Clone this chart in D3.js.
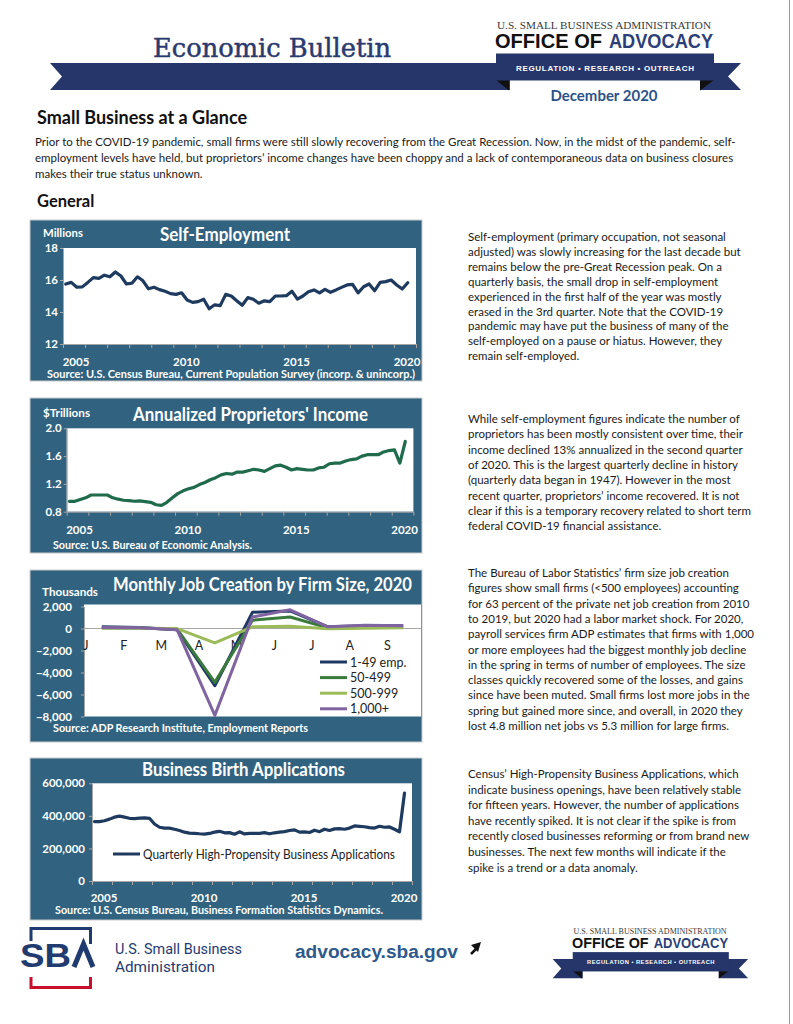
<!DOCTYPE html>
<html>
<head>
<meta charset="utf-8">
<script src="https://cdn.jsdelivr.net/npm/d3@7"></script>
<style>
  body { margin: 0; background: #fff; }
  svg { display: block; }
</style>
</head>
<body>
<svg id="page" width="793" height="1024"></svg>
<script>
// ---- Data (read off the bulletin) ----
// quarterly series, 2005 Q1 .. 2020 Q3
const selfEmployment = [15.75,15.85,15.55,15.57,15.85,16.15,16.1,16.3,16.2,16.5,16.25,15.75,15.8,16.2,15.95,15.45,
  15.55,15.4,15.3,15.15,15.1,15.2,14.75,14.6,14.65,14.8,14.2,14.45,14.4,15.1,15.0,14.7,
  14.42,14.9,14.8,14.55,14.7,14.65,15.0,15.0,15.02,15.3,14.8,15.0,15.27,15.38,15.2,15.42,
  15.23,15.38,15.54,15.69,15.73,15.2,15.58,15.75,15.33,15.85,15.9,16.0,15.69,15.44,15.83];
const proprietorsIncome = [0.95,0.95,0.975,1.0,1.04,1.04,1.04,1.04,1.0,0.98,0.965,0.96,0.95,0.955,0.945,0.935,
  0.9,0.89,0.935,1.0,1.06,1.1,1.13,1.15,1.19,1.22,1.26,1.29,1.33,1.35,1.34,1.37,
  1.37,1.39,1.41,1.40,1.38,1.42,1.46,1.47,1.44,1.40,1.42,1.41,1.40,1.40,1.43,1.44,
  1.49,1.50,1.50,1.53,1.55,1.56,1.60,1.62,1.62,1.62,1.66,1.68,1.69,1.50,1.81];
// thousands of applications
const birthApps = [365,365,370,380,392,398,392,385,383,386,388,385,350,330,325,325,
  318,310,300,294,293,290,288,292,300,305,296,297,287,302,289,293,
  292,293,297,290,296,300,303,310,314,300,302,298,312,303,318,310,
  320,322,318,325,338,336,333,328,325,336,330,332,318,302,540];
const firstYear = 2005;
const yearLabels = [2005, 2010, 2015, 2020];
const seTicks = [12, 14, 16, 18];
const incTicks = [0.8, 1.2, 1.6, 2.0];
const appTicks = [0, 200000, 400000, 600000];

// monthly job creation 2020 (thousands)
const months = ['J','F','M','A','M','J','J','A','S'];
const jobNames = ['1-49 emp.', '50-499', '500-999', '1,000+'];
const jobSmall = [150, 90, -120, -5200, 1480, 1600, 150, 250, 250];
const jobMid = [60, 40, -60, -4900, 750, 1050, 60, 150, 180];
const jobLarge = [20, 20, -10, -1300, 150, 200, -20, 20, 60];
const jobHuge = [100, 60, -120, -7900, 1050, 1700, 150, 300, 250];
const jobTicks = [-8000, -6000, -4000, -2000, 0, 2000];

// ---- Text ----
const introLines = [
  'Prior to the COVID-19 pandemic, small firms were still slowly recovering from the Great Recession. Now, in the midst of the pandemic, self-',
  'employment levels have held, but proprietors\u2019 income changes have been choppy and a lack of contemporaneous data on business closures',
  'makes their true status unknown.'
];
const textSelfEmp = [
  'Self-employment (primary occupation, not seasonal',
  'adjusted) was slowly increasing for the last decade but',
  'remains below the pre-Great Recession peak. On a',
  'quarterly basis, the small drop in self-employment',
  'experienced in the first half of the year was mostly',
  'erased in the 3rd quarter. Note that the COVID-19',
  'pandemic may have put the business of many of the',
  'self-employed on a pause or hiatus. However, they',
  'remain self-employed.'
];
const textIncome = [
  'While self-employment figures indicate the number of',
  'proprietors has been mostly consistent over time, their',
  'income declined 13% annualized in the second quarter',
  'of 2020. This is the largest quarterly decline in history',
  '(quarterly data began in 1947). However in the most',
  'recent quarter, proprietors\u2019 income recovered. It is not',
  'clear if this is a temporary recovery related to short term',
  'federal COVID-19 financial assistance.'
];
const textJobs = [
  'The Bureau of Labor Statistics\u2019 firm size job creation',
  'figures show small firms (<500 employees) accounting',
  'for 63 percent of the private net job creation from 2010',
  'to 2019, but 2020 had a labor market shock. For 2020,',
  'payroll services firm ADP estimates that firms with 1,000',
  'or more employees had the biggest monthly job decline',
  'in the spring in terms of number of employees. The size',
  'classes quickly recovered some of the losses, and gains',
  'since have been muted. Small firms lost more jobs in the',
  'spring but gained more since, and overall, in 2020 they',
  'lost 4.8 million net jobs vs 5.3 million for large firms.'
];
const textApps = [
  'Census\u2019 High-Propensity Business Applications, which',
  'indicate business openings, have been relatively stable',
  'for fifteen years. However, the number of applications',
  'have recently spiked. It is not clear if the spike is from',
  'recently closed businesses reforming or from brand new',
  'businesses. The next few months will indicate if the',
  'spike is a trend or a data anomaly.'
];

// ---- Styles ----
const NAVY = '#26366b';
const BOX = '#316380';
const CHART_FONT = 'Lato, "Open Sans", sans-serif';
const BODY_FONT = 'Lato, "Noto Sans", sans-serif';

const svg = d3.select('#page');

// page edge
svg.append('line').attr('x1', 789.5).attr('x2', 789.5).attr('y1', 0).attr('y2', 1024)
  .attr('stroke', '#9a9a9a').attr('stroke-width', 1);

// ---- Header ----
svg.append('text')
  .attr('x', 153).attr('y', 57)
  .attr('font-family', '"DejaVu Serif", serif')
  .attr('font-size', 26)
  .attr('fill', '#2b3a6e')
  .attr('stroke', '#2b3a6e').attr('stroke-width', 0.5)
  .attr('textLength', 238).attr('lengthAdjust', 'spacingAndGlyphs')
  .text('Economic Bulletin');

// Office of Advocacy logo (ribbon), drawn in header coordinates
function drawLogo(g, bandLeft) {
  g.append('path')
    .attr('d', `M${bandLeft},63 L510,63 L510,90 L${bandLeft},90 L${bandLeft + 12},76.5 Z`)
    .attr('fill', NAVY);
  g.append('path')
    .attr('d', 'M700,63 L741,63 L728,76.5 L741,90 L700,90 Z')
    .attr('fill', NAVY);
  g.append('path').attr('d', 'M496,80 L509,80 L509,90.5 Z').attr('fill', '#111');
  g.append('path').attr('d', 'M700,80 L714,80 L700,90.5 Z').attr('fill', '#111');
  g.append('rect')
    .attr('x', 496).attr('y', 53.5).attr('width', 218).attr('height', 27)
    .attr('fill', NAVY);
  g.append('text')
    .attr('x', 605).attr('y', 70.5)
    .attr('text-anchor', 'middle')
    .attr('font-family', '"Liberation Sans", Arial, sans-serif')
    .attr('font-weight', 'bold').attr('font-size', 8)
    .attr('fill', '#fff')
    .attr('textLength', 178).attr('lengthAdjust', 'spacing')
    .text('REGULATION \u2022 RESEARCH \u2022 OUTREACH');
  g.append('text')
    .attr('x', 497).attr('y', 28.5)
    .attr('font-family', '"Liberation Serif", "DejaVu Serif", serif')
    .attr('font-size', 10.5)
    .attr('fill', '#3a3a3a')
    .attr('textLength', 214).attr('lengthAdjust', 'spacingAndGlyphs')
    .text('U.S. SMALL BUSINESS ADMINISTRATION');
  g.append('text')
    .attr('x', 495).attr('y', 48)
    .attr('font-family', '"Liberation Sans", Arial, sans-serif')
    .attr('font-weight', 'bold').attr('font-size', 19.5)
    .attr('fill', '#111')
    .attr('textLength', 107).attr('lengthAdjust', 'spacingAndGlyphs')
    .text('OFFICE OF');
  g.append('text')
    .attr('x', 609).attr('y', 48)
    .attr('font-family', '"Liberation Sans", Arial, sans-serif')
    .attr('font-weight', 'bold').attr('font-size', 19.5)
    .attr('fill', '#2c3f78')
    .attr('textLength', 104).attr('lengthAdjust', 'spacingAndGlyphs')
    .text('ADVOCACY');
}

drawLogo(svg.append('g'), 50);

svg.append('text')
  .attr('x', 604).attr('y', 100.7)
  .attr('text-anchor', 'middle')
  .attr('font-family', 'Lato, "Open Sans", sans-serif')
  .attr('font-weight', 'bold').attr('font-size', 15)
  .attr('fill', '#2d5388')
  .attr('textLength', 107).attr('lengthAdjust', 'spacingAndGlyphs')
  .text('December 2020');

// ---- Intro ----
svg.append('text')
  .attr('x', 37).attr('y', 124)
  .attr('font-family', BODY_FONT)
  .attr('font-weight', 'bold').attr('font-size', 18)
  .attr('fill', '#111')
  .text('Small Business at a Glance');

function textBlock(lines, x, y0, lh) {
  svg.append('g').selectAll('text')
    .data(lines)
    .join('text')
    .attr('x', x)
    .attr('y', (d, i) => y0 + i * lh)
    .attr('font-family', BODY_FONT)
    .attr('font-size', 11.5)
    .attr('fill', '#1a1a1a')
    .text(d => d);
}

textBlock(introLines, 35, 146, 16);

svg.append('text')
  .attr('x', 37).attr('y', 207)
  .attr('font-family', BODY_FONT)
  .attr('font-weight', 'bold').attr('font-size', 16.5)
  .attr('fill', '#111')
  .text('General');

textBlock(textSelfEmp, 468, 241, 14.9);
textBlock(textIncome, 468, 423, 15.3);
textBlock(textJobs, 468, 577, 15.3);
textBlock(textApps, 468, 778, 15.6);

// ---- Chart helpers ----
function chartBox(y0, y1, title, titleX, titleY, titleLen) {
  svg.append('rect')
    .attr('x', 30).attr('y', y0).attr('width', 392).attr('height', y1 - y0)
    .attr('fill', BOX).attr('stroke', '#c9c9c9').attr('stroke-width', 1);
  svg.append('text')
    .attr('x', titleX).attr('y', titleY)
    .attr('text-anchor', 'middle')
    .attr('font-family', CHART_FONT)
    .attr('font-weight', 'bold').attr('font-size', 18)
    .attr('fill', '#fff')
    .attr('textLength', titleLen).attr('lengthAdjust', 'spacingAndGlyphs')
    .text(title);
}

function whiteLabel(str, x, y, size, len) {
  const t = svg.append('text')
    .attr('x', x).attr('y', y)
    .attr('font-family', CHART_FONT)
    .attr('font-weight', 'bold').attr('font-size', size)
    .attr('fill', '#fff')
    .text(str);
  if (len) t.attr('textLength', len).attr('lengthAdjust', 'spacingAndGlyphs');
  return t;
}

function styleAxis(g, labelSize) {
  g.select('.domain').attr('stroke', '#a6a6a6');
  g.selectAll('.tick line').attr('stroke', '#a6a6a6');
  g.selectAll('.tick text')
    .attr('fill', '#fff')
    .attr('font-family', CHART_FONT)
    .attr('font-weight', 'bold')
    .attr('font-size', labelSize);
}

// quarterly line chart, 2005Q1..2020Q4 axis with one band per year
function timeChart(o) {
  const x = d3.scaleLinear().domain([firstYear, 2021]).range([o.left, o.right]);
  const y = d3.scaleLinear().domain(o.yDomain).range([o.bottom, o.top]);

  svg.append('rect')
    .attr('x', o.left).attr('y', o.top)
    .attr('width', o.right - o.left).attr('height', o.bottom - o.top)
    .attr('fill', '#fff');

  const ya = svg.append('g')
    .attr('transform', `translate(${o.left},0)`)
    .call(d3.axisLeft(y).tickValues(o.yTicks).tickSize(3).tickSizeOuter(0)
      .tickPadding(o.pad).tickFormat(o.fmt));
  styleAxis(ya, o.labelSize);

  const xa = svg.append('g')
    .attr('transform', `translate(0,${o.bottom})`)
    .call(d3.axisBottom(x).tickValues(d3.range(firstYear, 2022)).tickSize(4)
      .tickSizeOuter(0).tickFormat(''));
  styleAxis(xa, o.labelSize);

  svg.append('g').selectAll('text')
    .data(yearLabels)
    .join('text')
    .attr('x', d => x(d + 0.5) + 2)
    .attr('y', o.labelY)
    .attr('text-anchor', 'middle')
    .attr('font-family', CHART_FONT)
    .attr('font-weight', 'bold').attr('font-size', o.labelSize)
    .attr('fill', '#fff')
    .text(d => d);

  const line = d3.line()
    .x((d, i) => x(firstYear + i / 4 + 0.125))
    .y(d => y(d * o.mult))
    .curve(d3.curveLinear);

  svg.append('path')
    .datum(o.values)
    .attr('d', line)
    .attr('fill', 'none')
    .attr('stroke', o.color)
    .attr('stroke-width', 3.2)
    .attr('stroke-linejoin', 'round')
    .attr('stroke-linecap', 'round');
  return { x, y };
}

// ---- Chart 1: Self-Employment ----
chartBox(220, 381, 'Self-Employment', 225, 240.5, 130);
whiteLabel('Millions', 43, 237, 11, 40);
timeChart({
  left: 63, right: 416, top: 248, bottom: 344,
  yDomain: [12, 18], yTicks: seTicks, fmt: d3.format('d'), pad: 2,
  labelSize: 11.5, labelY: 365.5, values: selfEmployment, mult: 1, color: '#1e3a5f'
});
whiteLabel('Source: U.S. Census Bureau, Current Population Survey (incorp. & unincorp.)', 47, 378, 10.5, 368);

// ---- Chart 2: Proprietors' Income ----
chartBox(398, 553, 'Annualized Proprietors\' Income', 250.5, 420.5, 235);
whiteLabel('$Trillions', 43, 417, 11, 47);
timeChart({
  left: 66.7, right: 413.4, top: 428.3, bottom: 511.7,
  yDomain: [0.8, 2.0], yTicks: incTicks, fmt: d3.format('.1f'), pad: 2,
  labelSize: 11.5, labelY: 533.5, values: proprietorsIncome, mult: 1, color: '#1f6b4c'
});
whiteLabel('Source: U.S. Bureau of Economic Analysis.', 53, 549, 10.5, 199);

// ---- Chart 3: Monthly Job Creation ----
chartBox(570, 742, 'Monthly Job Creation by Firm Size, 2020', 262.5, 590.5, 299);
whiteLabel('Thousands', 42, 596, 11, 56);
(function jobChart() {
  const left = 84, right = 421, top = 606.5, bottom = 716.5;
  const x = d3.scaleBand().domain(d3.range(months.length)).range([83, 422]).padding(0);
  const y = d3.scaleLinear().domain([-8000, 2000]).range([bottom, top]);
  const cx = i => x(i) + x.bandwidth() / 2;

  svg.append('rect')
    .attr('x', left).attr('y', top - 2)
    .attr('width', right - left).attr('height', bottom - top + 2)
    .attr('fill', '#fff');

  const ya = svg.append('g')
    .attr('transform', `translate(${left},0)`)
    .call(d3.axisLeft(y).tickValues(jobTicks).tickSize(3).tickSizeOuter(0)
      .tickPadding(9).tickFormat(d3.format(',')));
  styleAxis(ya, 11.5);

  // zero line
  svg.append('line')
    .attr('x1', left).attr('x2', right)
    .attr('y1', y(0)).attr('y2', y(0))
    .attr('stroke', '#a6a6a6').attr('stroke-width', 1);

  svg.append('g').selectAll('text')
    .data(months)
    .join('text')
    .attr('x', (d, i) => x(i) + 3)
    .attr('y', y(0) + 21)
    .attr('text-anchor', 'middle')
    .attr('font-family', CHART_FONT)
    .attr('font-size', 12.5)
    .attr('fill', '#222')
    .text(d => d);

  const series = [jobSmall, jobMid, jobLarge, jobHuge];
  const colors = ['#1f3864', '#3a7a3c', '#9bbb59', '#8064a2'];
  const line = d3.line().x((d, i) => cx(i)).y(d => y(d));

  series.forEach((vals, k) => {
    svg.append('path')
      .datum(vals)
      .attr('d', line)
      .attr('fill', 'none')
      .attr('stroke', colors[k])
      .attr('stroke-width', 3)
      .attr('stroke-linejoin', 'round');
  });

  // legend
  const legend = svg.append('g').selectAll('g')
    .data(jobNames)
    .join('g')
    .attr('transform', (d, i) => `translate(320,${662 + i * 15.6})`);
  legend.append('line')
    .attr('x1', 0).attr('x2', 27)
    .attr('stroke', (d, i) => colors[i])
    .attr('stroke-width', 3);
  legend.append('text')
    .attr('x', 30).attr('y', 4.5)
    .attr('font-family', CHART_FONT)
    .attr('font-size', 12.5)
    .attr('fill', '#222')
    .text(d => d);
})();
whiteLabel('Source: ADP Research Institute, Employment Reports', 53, 732, 10.5, 255);

// ---- Chart 4: Business Birth Applications ----
chartBox(758, 920, 'Business Birth Applications', 243.5, 776, 203);
timeChart({
  left: 92, right: 412, top: 783.3, bottom: 881,
  yDomain: [0, 600000], yTicks: appTicks, fmt: d3.format(','), pad: 4,
  labelSize: 11.5, labelY: 902, values: birthApps, mult: 1000, color: '#1e3a5f'
});
svg.append('line')
  .attr('x1', 113).attr('x2', 140).attr('y1', 854).attr('y2', 854)
  .attr('stroke', '#1e3a5f').attr('stroke-width', 3);
svg.append('text')
  .attr('x', 143).attr('y', 858.5)
  .attr('font-family', CHART_FONT)
  .attr('font-size', 12.5)
  .attr('fill', '#222')
  .attr('textLength', 252).attr('lengthAdjust', 'spacingAndGlyphs')
  .text('Quarterly High-Propensity Business Applications');
whiteLabel('Source: U.S. Census Bureau, Business Formation Statistics Dynamics.', 55, 913.5, 10.5, 328);

// ---- Footer ----
// SBA mark
svg.append('path')
  .attr('d', 'M31,941 V928.5 H90.5 V944')
  .attr('fill', 'none').attr('stroke', '#1f3b70').attr('stroke-width', 3);
svg.append('path')
  .attr('d', 'M31,977 V987.5 H90.5 V977')
  .attr('fill', 'none').attr('stroke', '#c8102e').attr('stroke-width', 3);
svg.append('text')
  .attr('x', 20).attr('y', 967)
  .attr('font-family', '"Liberation Sans", Arial, sans-serif')
  .attr('font-weight', 'bold').attr('font-size', 33)
  .attr('fill', '#1f3b70')
  .attr('textLength', 51).attr('lengthAdjust', 'spacingAndGlyphs')
  .text('SB');
svg.append('path')
  .attr('d', 'M74,967 L83.5,944 L93,967')
  .attr('fill', 'none').attr('stroke', '#1f3b70').attr('stroke-width', 5);

svg.append('text')
  .attr('x', 115).attr('y', 954)
  .attr('font-family', 'Roboto, "Open Sans", sans-serif')
  .attr('font-size', 15)
  .attr('fill', '#1f3b70')
  .attr('textLength', 127).attr('lengthAdjust', 'spacingAndGlyphs')
  .text('U.S. Small Business');
svg.append('text')
  .attr('x', 115).attr('y', 972)
  .attr('font-family', 'Roboto, "Open Sans", sans-serif')
  .attr('font-size', 15)
  .attr('fill', '#1f3b70')
  .attr('textLength', 100).attr('lengthAdjust', 'spacingAndGlyphs')
  .text('Administration');

svg.append('text')
  .attr('x', 295).attr('y', 958)
  .attr('font-family', '"Liberation Sans", Arial, sans-serif')
  .attr('font-weight', 'bold').attr('font-size', 18)
  .attr('fill', '#2e5a8c')
  .attr('textLength', 163).attr('lengthAdjust', 'spacingAndGlyphs')
  .text('advocacy.sba.gov');
// small arrow
svg.append('line')
  .attr('x1', 471).attr('y1', 954).attr('x2', 477).attr('y2', 948)
  .attr('stroke', '#111').attr('stroke-width', 2.5);
svg.append('path')
  .attr('d', 'M481,942 L471,945 L478,952 Z')
  .attr('fill', '#111');

drawLogo(svg.append('g').attr('transform', 'translate(217.6,913.8) scale(0.716)'), 468);
</script>
</body>
</html>
